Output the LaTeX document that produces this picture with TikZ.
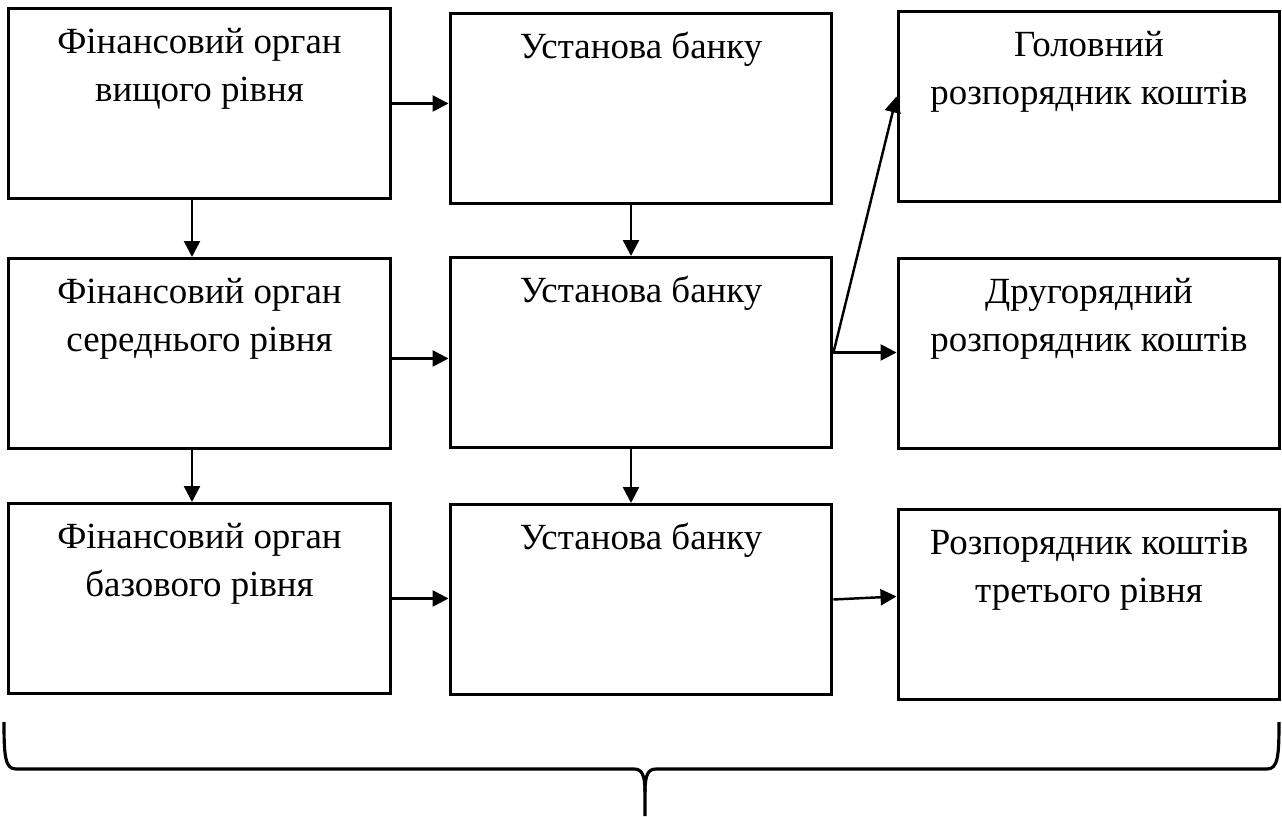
\documentclass[tikz,border=0pt]{standalone}
\usepackage{fontspec}
\setmainfont{Liberation Serif}
\usepackage{tikz}
\usetikzlibrary{arrows.meta}

\begin{document}
\begin{tikzpicture}[x=0.02cm,y=-0.02cm,
  unit/.style={draw,line width=1.7pt,anchor=north,minimum width=7.64cm,minimum height=3.8cm,
    inner xsep=0pt,inner ysep=0.2cm,align=center,text height=0.7cm,text depth=2.7cm,
    font=\fontsize{21}{27.3}\selectfont},
  unit2/.style={unit,text height=1.66cm,text depth=1.74cm},
  flow/.style={line width=1.4pt,-{Triangle[length=0.32cm,width=0.32cm]}},
  brace/.style={line width=1.8pt}]
  \useasboundingbox (0,0) rectangle (1282,816);
  \node[unit2] (fin1) at (199.5,7) {Фінансовий орган\\вищого рівня};
  \node[unit] (bank1) at (641,12) {Установа банку};
  \node[unit2] (head) at (1089,10) {Головний\\розпорядник коштів};
  \node[unit2] (fin2) at (199.5,257) {Фінансовий орган\\середнього рівня};
  \node[unit] (bank2) at (641,256) {Установа банку};
  \node[unit2] (second) at (1089,257) {Другорядний\\розпорядник коштів};
  \node[unit2] (fin3) at (199.5,502) {Фінансовий орган\\базового рівня};
  \node[unit] (bank3) at (641,503) {Установа банку};
  \node[unit2] (third) at (1089,508) {Розпорядник коштів\\третього рівня};
  \draw[flow] (fin1.east) -- (fin1.east -| bank1.west);
  \draw[flow] ([yshift=-0.1cm]fin2.east) -- ([yshift=-0.1cm]fin2.east -| bank2.west);
  \draw[flow] (fin3.east) -- (fin3.east -| bank3.west);
  \draw[flow] ([xshift=-0.15cm]fin1.south) -- ([xshift=-0.15cm]fin1.south |- fin2.north);
  \draw[flow] ([xshift=-0.15cm]fin2.south) -- ([xshift=-0.15cm]fin2.south |- fin3.north);
  \draw[flow] ([xshift=-0.2cm]bank1.south) -- ([xshift=-0.2cm]bank1.south |- bank2.north);
  \draw[flow] ([xshift=-0.2cm]bank2.south) -- ([xshift=-0.2cm]bank2.south |- bank3.north);
  \draw[flow] (bank2.east) -- ([yshift=0.2cm]head.west);
  \draw[flow] (bank2.east) -- (bank2.east -| second.west);
  \draw[flow] (bank3.east) -- ([yshift=0.16cm]third.west);
  \draw[brace] (4,722) .. controls (4,756) and (5,769) .. (16,769) -- (634,769)
    .. controls (642,769) and (645,775) .. (645,792) -- (645,816);
  \draw[brace] (1279,722) .. controls (1279,756) and (1278,769) .. (1267,769) -- (656,769)
    .. controls (648,769) and (645,775) .. (645,792);
\end{tikzpicture}
\end{document}
